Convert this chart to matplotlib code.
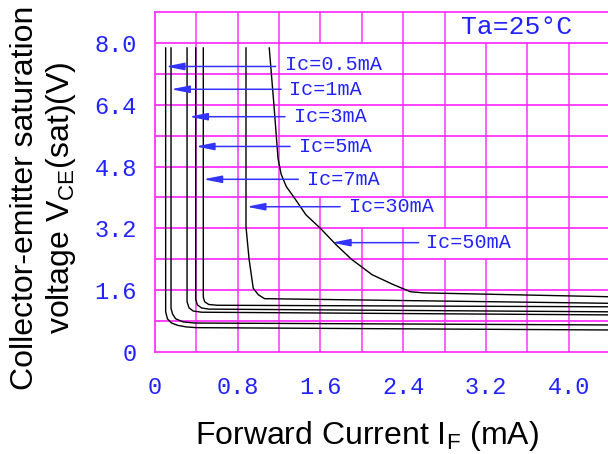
import matplotlib
matplotlib.use("Agg")
import matplotlib.pyplot as plt
from matplotlib.patches import Rectangle
import numpy as np

# curves: forward current (mA) vs Vce(sat) (V)
ic05_x = [0.103, 0.103, 0.12, 0.16, 0.22, 0.30, 0.40, 4.4]
ic05_y = [7.87, 1.04, 0.86, 0.75, 0.69, 0.65, 0.63, 0.57]
ic1_x = [0.155, 0.155, 0.17, 0.20, 0.27, 0.38, 4.4]
ic1_y = [7.87, 1.13, 0.98, 0.86, 0.78, 0.75, 0.70]
ic3_x = [0.31, 0.31, 0.33, 0.37, 0.45, 4.4]
ic3_y = [7.87, 1.30, 1.14, 1.06, 1.03, 0.96]
ic5_x = [0.394, 0.394, 0.41, 0.45, 0.52, 4.4]
ic5_y = [7.87, 1.36, 1.22, 1.14, 1.11, 1.04]
ic7_x = [0.467, 0.467, 0.48, 0.52, 0.60, 4.4]
ic7_y = [7.87, 1.42, 1.30, 1.23, 1.21, 1.17]
ic30_x = [0.88, 0.88, 0.91, 0.95, 1.00, 1.06, 4.4]
ic30_y = [7.87, 3.24, 2.40, 1.65, 1.48, 1.38, 1.26]
ic50_x = [1.105, 1.15, 1.19, 1.22, 1.27, 1.34, 1.46, 1.60, 1.75, 1.90, 2.10, 2.30, 2.47, 2.60, 4.4]
ic50_y = [7.87, 6.40, 5.00, 4.60, 4.28, 4.02, 3.55, 3.20, 2.78, 2.40, 2.00, 1.75, 1.56, 1.53, 1.43]

curves = [(ic05_x, ic05_y), (ic1_x, ic1_y), (ic3_x, ic3_y), (ic5_x, ic5_y),
          (ic7_x, ic7_y), (ic30_x, ic30_y), (ic50_x, ic50_y)]

# labels: text, arrow tip (x, y), arrow tail x, text start x
labels = ["Ic=0.5mA", "Ic=1mA", "Ic=3mA", "Ic=5mA", "Ic=7mA", "Ic=30mA", "Ic=50mA"]
tips = [(0.103, 7.39), (0.155, 6.80), (0.33, 6.09), (0.394, 5.32),
        (0.467, 4.47), (0.886, 3.76), (1.71, 2.83)]
tails = [1.167, 1.22, 1.257, 1.306, 1.386, 1.79, 2.55]
text_x = [1.257, 1.30, 1.344, 1.393, 1.467, 1.88, 2.62]
text_y = [7.45, 6.80, 6.09, 5.32, 4.47, 3.76, 2.83]

x_ticks = [0, 0.8, 1.6, 2.4, 3.2, 4.0]
x_ticklabels = ["0", "0.8", "1.6", "2.4", "3.2", "4.0"]
y_ticks = [0, 1.6, 3.2, 4.8, 6.4, 8.0]
y_ticklabels = ["0", "1.6", "3.2", "4.8", "6.4", "8.0"]

plt.rcParams['mathtext.fontset'] = 'custom'
plt.rcParams['mathtext.rm'] = 'Liberation Sans'
plt.rcParams['mathtext.it'] = 'Liberation Sans'

grid_c = '#ff33ff'
blue = '#2222ff'
mono = 'Liberation Mono'

fig = plt.figure(figsize=(6.08, 4.54), dpi=100)
ax = fig.add_axes([155 / 608, 102 / 454, 453 / 608, 340 / 454])
ax.set_xlim(0, 4.381)
ax.set_ylim(0, 8.8)

# grid drawn by hand so label boxes can hide vertical lines only
for gx in np.arange(0.4, 4.3, 0.4):
    ax.axvline(gx, color=grid_c, lw=1.1, zorder=1)
for gy in np.arange(0.8, 8.5, 0.8):
    ax.axhline(gy, color=grid_c, lw=1.3, zorder=2)

# white cells behind the labels
for (x0, x1, y0, y1) in [(1.2, 2.4, 4.0, 8.0), (1.6, 2.8, 3.2, 4.0),
                         (2.4, 3.6, 2.4, 3.2), (2.8, 4.5, 8.0, 8.8)]:
    ax.add_patch(Rectangle((x0 + 0.02, y0), x1 - x0 - 0.04, y1 - y0,
                           facecolor='white', edgecolor='none', zorder=1.5))

for cx, cy in curves:
    ax.plot(cx, cy, color='black', lw=1.0, zorder=3)

for lab, tip, tl, tx, ty in zip(labels, tips, tails, text_x, text_y):
    ax.annotate('', xy=tip, xytext=(tl, tip[1]),
                arrowprops=dict(arrowstyle='-|>,head_length=1.1,head_width=0.22',
                                color='#3333ff', lw=1.1, shrinkA=0, shrinkB=0,
                                mutation_scale=10), zorder=4)
    ax.text(tx, ty, lab, color=blue, fontsize=14.5, family=mono,
            ha='left', va='center', zorder=5)

ax.text(3.50, 8.40, "Ta=25°C", color=blue, fontsize=19, family=mono,
        ha='center', va='center', zorder=5)

for side in ['left', 'bottom', 'top']:
    ax.spines[side].set_color(grid_c)
    ax.spines[side].set_linewidth(1.3)
ax.spines['right'].set_visible(False)

ax.set_xticks(x_ticks)
ax.set_xticklabels(x_ticklabels, family=mono, fontsize=17, color=blue)
ax.set_yticks(y_ticks)
ax.set_yticklabels(y_ticklabels, family=mono, fontsize=17, color=blue)
ax.tick_params(axis='both', length=0)
ax.tick_params(axis='x', pad=17)
ax.tick_params(axis='y', pad=13)

fig.text(0.603, 1 - 444 / 454, r"Forward Current I$_\mathregular{F}$ (mA)",
         fontsize=23, family='Liberation Sans', ha='center', va='baseline')
fig.text(0.072, 1 - 198 / 454,
         "Collector-emitter saturation\nvoltage V$_\\mathregular{CE}$(sat)(V)",
         fontsize=23, family='Liberation Sans', ha='center', va='center',
         rotation=90, multialignment='center', linespacing=1.15)

plt.savefig('out.png', dpi=100)
plt.close()
